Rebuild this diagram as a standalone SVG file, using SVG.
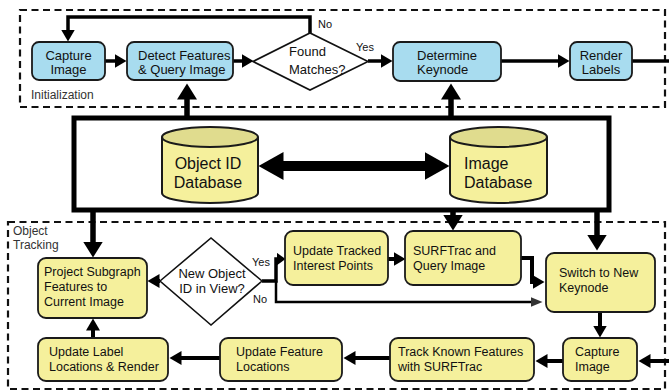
<svg xmlns="http://www.w3.org/2000/svg" width="669" height="391" viewBox="0 0 669 391">
<style>
text{font-family:"Liberation Sans",Arial,sans-serif;fill:#111}
.blue{fill:#a8dcef;stroke:#1a1a1a;stroke-width:1.8}
.yel{fill:#f5f09c;stroke:#1a1a1a;stroke-width:1.8}
.dia{fill:#fff;stroke:#111;stroke-width:1.6}
.dash{fill:none;stroke:#111;stroke-width:2.2;stroke-dasharray:7 4.5}
.t13{font-size:13px}
.t12{font-size:12.5px}
.lab{font-size:11px}
.grp{font-size:12px;fill:#333}
.c{stroke:#000;fill:none}
.w3{stroke-width:3.5}
.w4{stroke-width:4}
.w5{stroke-width:5.5}
.cyl{fill:#f5f09c;stroke:#1a1a1a;stroke-width:2}
.cyltop{fill:#e0dc8e;stroke:#1a1a1a;stroke-width:2}
</style>
<defs>
<marker id="mlg" markerUnits="userSpaceOnUse" markerWidth="17" markerHeight="20" refX="0.5" refY="10" orient="auto"><path d="M0,0 L16,10 L0,20 z" fill="#000"/></marker>
<marker id="mmd" markerUnits="userSpaceOnUse" markerWidth="13" markerHeight="14" refX="0.5" refY="7" orient="auto"><path d="M0,0 L12,7 L0,14 z" fill="#000"/></marker>
<marker id="msm" markerUnits="userSpaceOnUse" markerWidth="10" markerHeight="13" refX="0.5" refY="6.5" orient="auto"><path d="M0,0 L9,6.5 L0,13 z" fill="#000"/></marker>
<marker id="mxl" markerUnits="userSpaceOnUse" markerWidth="26" markerHeight="28" refX="0.5" refY="14" orient="auto-start-reverse"><path d="M0,0 L25,14 L0,28 z" fill="#000"/></marker>
<marker id="mth" markerUnits="userSpaceOnUse" markerWidth="13" markerHeight="10" refX="0.5" refY="5" orient="auto"><path d="M0,0 L12,5 L0,10 z" fill="#333"/></marker>
</defs>

<g id="group-initialization">
<rect class="dash" x="20" y="10" width="645" height="97"/>
<text class="grp" x="31" y="99">Initialization</text>
</g>
<g id="group-tracking">
<rect class="dash" x="8" y="222" width="657" height="167"/>
<text class="grp" x="13" y="235">Object</text>
<text class="grp" x="13" y="249">Tracking</text>
</g>

<g id="databases-frame">
<rect x="74" y="118" width="535" height="92" fill="none" stroke="#000" stroke-width="5"/>
</g>

<g id="connectors">
<path class="c w3" d="M105,61 H115" marker-end="url(#mmd)"/>
<path class="c w3" d="M233,61 H242" marker-end="url(#mmd)"/>
<path class="c w3" d="M368,61 H381" marker-end="url(#mmd)"/>
<path class="c w3" d="M501,61 H558" marker-end="url(#mmd)"/>
<path class="c w3" d="M632,61 H669"/>
<path class="c w3" d="M310,33 V17 H68 V30" marker-end="url(#mmd)"/>
<path class="c w5" d="M187,118 V99" marker-end="url(#mlg)"/>
<path class="c w5" d="M451,118 V99" marker-end="url(#mlg)"/>
<path class="c" stroke-width="10" d="M283,166 H425" marker-start="url(#mxl)" marker-end="url(#mxl)"/>
<path class="c w5" d="M93,210 V242" marker-end="url(#mlg)"/>
<path class="c w5" d="M453,210 V215" marker-end="url(#mlg)"/>
<path class="c w5" d="M597,210 V235" marker-end="url(#mlg)"/>
<path class="c w4" d="M600,312 V326" marker-end="url(#mmd)"/>
<path class="c w4" d="M669,361 H650" marker-end="url(#mmd)"/>
<path class="c w4" d="M563,361 H547" marker-end="url(#mmd)"/>
<path class="c w4" d="M390,358 H355" marker-end="url(#mmd)"/>
<path class="c w4" d="M220,358 H181" marker-end="url(#mmd)"/>
<path class="c w4" d="M93,338 V330" marker-end="url(#mmd)"/>
<path class="c w4" d="M160,281 H159" marker-end="url(#mmd)"/>
<path class="c w3" d="M262,281 H276 V259 H277" marker-end="url(#msm)"/>
<path class="c" stroke-width="2.5" d="M276,281 V302 H531" marker-end="url(#mth)"/>
<path class="c w4" d="M388,259 H394" marker-end="url(#mmd)"/>
<path class="c w4" d="M521,258 H532 V282 H533" marker-end="url(#mmd)"/>
<text class="lab" x="318" y="28">No</text>
<text class="lab" x="356" y="51">Yes</text>
<text class="lab" x="252" y="266">Yes</text>
<text class="lab" x="253" y="303">No</text>
</g>

<g id="capture-image-init">
<rect class="blue" x="32" y="42" width="73" height="38" rx="7"/>
<text class="t13" x="68.5" y="59.5" text-anchor="middle">Capture</text>
<text class="t13" x="68.5" y="74" text-anchor="middle">Image</text>
</g>
<g id="detect-features">
<rect class="blue" x="127" y="42" width="106" height="38" rx="7"/>
<text class="t13" x="138" y="59.5">Detect Features</text>
<text class="t13" x="138" y="74">&amp; Query Image</text>
</g>
<g id="found-matches">
<polygon class="dia" points="253,61.5 310,33 368,61.5 310,90"/>
<text class="t13" x="289" y="56">Found</text>
<text class="t13" x="289" y="74">Matches?</text>
</g>
<g id="determine-keynode">
<rect class="blue" x="393" y="42" width="108" height="39" rx="7"/>
<text class="t13" x="417" y="59.5">Determine</text>
<text class="t13" x="417" y="74">Keynode</text>
</g>
<g id="render-labels">
<rect class="blue" x="570" y="42" width="62" height="38" rx="7"/>
<text class="t13" x="601" y="59.5" text-anchor="middle">Render</text>
<text class="t13" x="601" y="74" text-anchor="middle">Labels</text>
</g>

<g id="object-id-database">
<path class="cyl" d="M162,137 V193 A48,10 0 0 0 258,193 V137"/>
<ellipse class="cyltop" cx="210" cy="137" rx="48" ry="10"/>
<text x="208" y="169" font-size="16" text-anchor="middle">Object ID</text>
<text x="208" y="188" font-size="16" text-anchor="middle">Database</text>
</g>
<g id="image-database">
<path class="cyl" d="M450,137 V193 A48.5,10 0 0 0 547,193 V137"/>
<ellipse class="cyltop" cx="498.5" cy="137" rx="48.5" ry="10"/>
<text x="464" y="169" font-size="16">Image</text>
<text x="464" y="188" font-size="16">Database</text>
</g>

<g id="project-subgraph">
<rect class="yel" x="38" y="258" width="109" height="60" rx="8"/>
<text class="t12" x="44" y="276">Project Subgraph</text>
<text class="t12" x="44" y="291">Features to</text>
<text class="t12" x="44" y="306">Current Image</text>
</g>
<g id="new-object-id">
<polygon class="dia" points="160,281 211,238 262,281 211,325"/>
<text class="t13" x="212" y="278" text-anchor="middle">New Object</text>
<text class="t13" x="212" y="293" text-anchor="middle">ID in View?</text>
</g>
<g id="update-tracked">
<rect class="yel" x="285" y="231" width="103" height="54" rx="8"/>
<text class="t12" x="293" y="255">Update Tracked</text>
<text class="t12" x="293" y="270">Interest Points</text>
</g>
<g id="surftrac-query">
<rect class="yel" x="405" y="231" width="116" height="54" rx="8"/>
<text class="t12" x="413" y="255">SURFTrac and</text>
<text class="t12" x="413" y="270">Query Image</text>
</g>
<g id="switch-keynode">
<rect class="yel" x="546" y="253" width="109" height="59" rx="8"/>
<text class="t12" x="559" y="277">Switch to New</text>
<text class="t12" x="559" y="292">Keynode</text>
</g>
<g id="capture-image-track">
<rect class="yel" x="563" y="338" width="74" height="43" rx="8"/>
<text class="t12" x="575" y="356">Capture</text>
<text class="t12" x="575" y="371">Image</text>
</g>
<g id="track-known">
<rect class="yel" x="390" y="338" width="144" height="43" rx="8"/>
<text class="t12" x="398" y="356">Track Known Features</text>
<text class="t12" x="398" y="371">with SURFTrac</text>
</g>
<g id="update-feature">
<rect class="yel" x="220" y="338" width="122" height="43" rx="8"/>
<text class="t12" x="236" y="356">Update Feature</text>
<text class="t12" x="236" y="371">Locations</text>
</g>
<g id="update-label">
<rect class="yel" x="38" y="338" width="130" height="43" rx="8"/>
<text class="t12" x="49" y="356">Update Label</text>
<text class="t12" x="49" y="371">Locations &amp; Render</text>
</g>
</svg>
